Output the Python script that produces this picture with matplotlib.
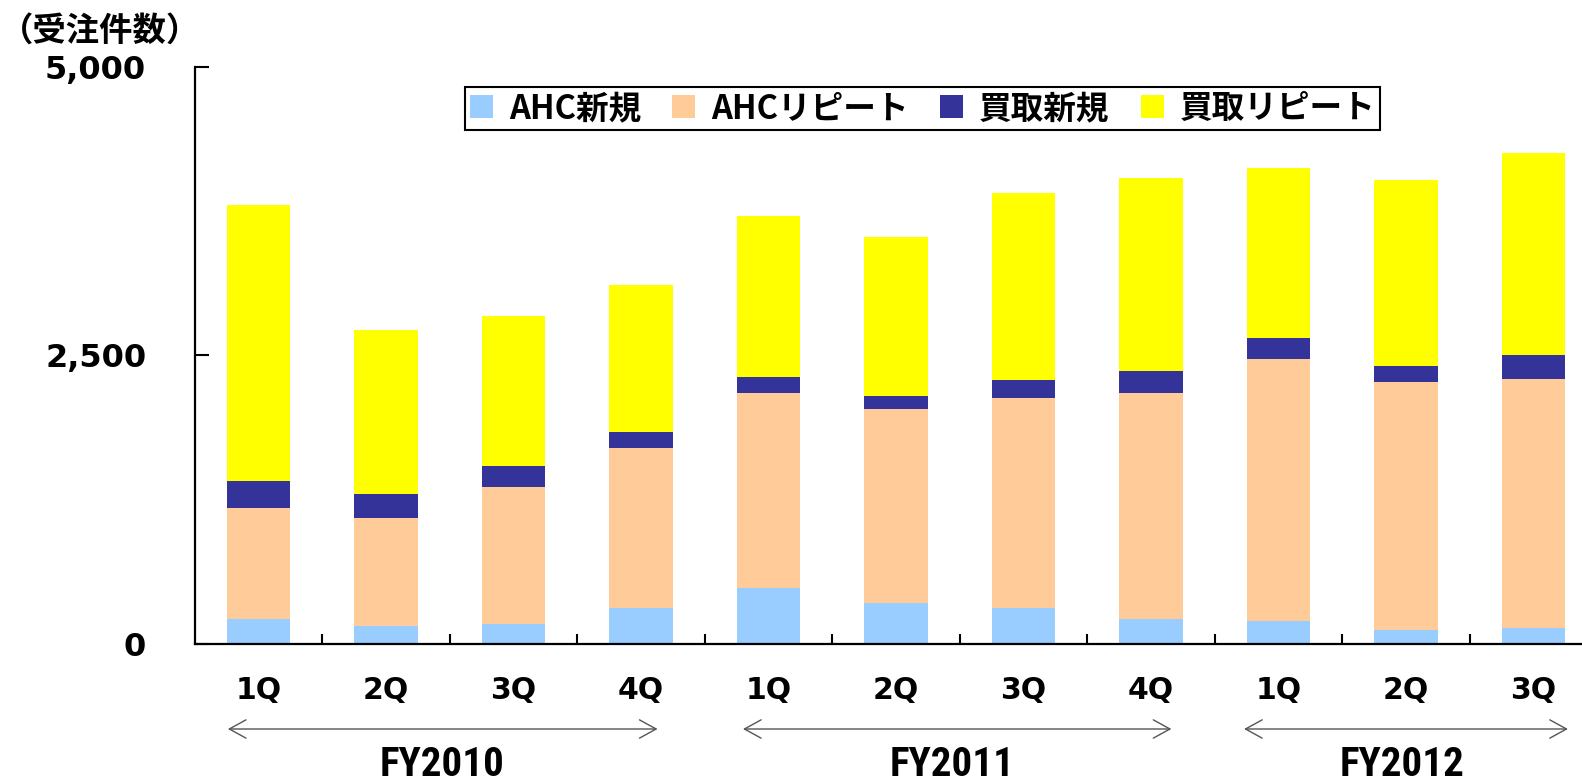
import matplotlib
matplotlib.use("Agg")
import matplotlib.pyplot as plt
from matplotlib import font_manager
import numpy as np
from matplotlib.patches import Patch

# ---- data ----
quarters = ["1Q", "2Q", "3Q", "4Q", "1Q", "2Q", "3Q", "4Q", "1Q", "2Q", "3Q"]
ahc_new = [219, 161, 178, 314, 490, 358, 317, 219, 202, 124, 141]
ahc_repeat = [961, 932, 1184, 1386, 1686, 1679, 1815, 1957, 2268, 2146, 2156]
kaitori_new = [234, 208, 181, 139, 138, 112, 156, 190, 181, 139, 209]
kaitori_repeat = [2389, 1421, 1300, 1271, 1393, 1376, 1620, 1670, 1472, 1610, 1748]
series_names = ["AHC新規", "AHCリピート", "買取新規", "買取リピート"]
series_colors = ["#99CCFF", "#FFCC99", "#333399", "#FFFF00"]
fiscal_years = ["FY2010", "FY2011", "FY2012"]
fy_spans = [(-0.24, 3.13), (3.80, 7.16), (7.73, 10.27)]
fy_label_x = [1.44, 5.44, 8.97]
y_ticks = [0, 2500, 5000]
y_ticklabels = ["0", "2,500", "5,000"]
y_title = "（受注件数）"

# pick a narrow font for the fiscal-year labels if one is installed
narrow_file = None
for f in font_manager.fontManager.ttflist:
    nm = (f.name + " " + f.fname).lower()
    if ("narrow" in nm or "condensed" in nm) and f.weight in (700, "bold") \
            and f.style == "normal":
        narrow_file = f.fname
        if "liberation" in nm:
            break
if narrow_file:
    fy_font = dict(fontproperties=font_manager.FontProperties(fname=narrow_file, size=29.5))
else:
    fy_font = dict(fontsize=24, fontweight="bold", family=["Liberation Sans", "DejaVu Sans"])

W, H = 1582, 782
fig = plt.figure(figsize=(W / 100, H / 100), dpi=100)
ax = fig.add_axes([194.75 / W, (H - 644.3) / H, 1402.5 / W, 577.6 / H])

x = np.arange(len(quarters))
bottom = np.zeros(len(quarters))
for vals, name, col in zip([ahc_new, ahc_repeat, kaitori_new, kaitori_repeat],
                           series_names, series_colors):
    ax.bar(x, vals, width=0.5, bottom=bottom, color=col, label=name, linewidth=0)
    bottom += np.array(vals)

ax.set_xlim(-0.5, len(quarters) - 0.5)
ax.set_ylim(0, 5000)

for s in ["top", "right"]:
    ax.spines[s].set_visible(False)
for s in ["left", "bottom"]:
    ax.spines[s].set_linewidth(1.6)
    ax.spines[s].set_color("black")

ax.set_yticks(y_ticks)
ax.set_yticklabels(y_ticklabels, fontsize=23, fontweight="bold",
                   family=["DejaVu Sans"])
ax.tick_params(axis="y", direction="in", length=10, width=1.5, pad=35)

ax.set_xticks(np.arange(len(quarters) - 1) + 0.5)
ax.set_xticklabels([])
ax.tick_params(axis="x", which="major", direction="in", length=7, width=1.5)
ax.set_xticks(x, minor=True)
ax.set_xticklabels(quarters, minor=True, fontsize=21.5, fontweight="bold",
                   family=["DejaVu Sans"])
ax.tick_params(axis="x", which="minor", length=0, pad=23)

# title
fig.text(0 / W, 1 - 31.5 / H, y_title, fontsize=24, fontweight="bold",
         family=["Noto Sans CJK JP", "DejaVu Sans"], ha="left", va="center")

# fiscal-year arrows and labels
for fy, (x0, x1), lx in zip(fiscal_years, fy_spans, fy_label_x):
    ax.annotate("", xy=(x1, 1 - 729 / H), xytext=(x0, 1 - 729 / H),
                xycoords=("data", "figure fraction"),
                textcoords=("data", "figure fraction"),
                arrowprops=dict(arrowstyle="<->,head_length=0.6,head_width=0.33",
                                mutation_scale=20, color="#555555", lw=1.0,
                                shrinkA=0, shrinkB=0),
                annotation_clip=False)
    ax.annotate(fy, xy=(lx, 1 - 765 / H), xycoords=("data", "figure fraction"),
                ha="center", va="center", annotation_clip=False, **fy_font)

handles = [Patch(facecolor=c, edgecolor="none") for c in series_colors]
leg = ax.legend(handles, series_names, ncol=4, loc="upper left",
                bbox_to_anchor=(465 / W, 1 - 87 / H), bbox_transform=fig.transFigure,
                borderaxespad=0, frameon=True, fancybox=False, framealpha=1,
                edgecolor="black", handlelength=0.7, handleheight=0.7,
                handletextpad=0.5, columnspacing=0.95, borderpad=0.15,
                prop={"family": ["Noto Sans CJK JP", "DejaVu Sans"],
                      "weight": "bold", "size": 23.5})
leg.get_frame().set_linewidth(1.5)

fig.savefig("out.png", dpi=100)
